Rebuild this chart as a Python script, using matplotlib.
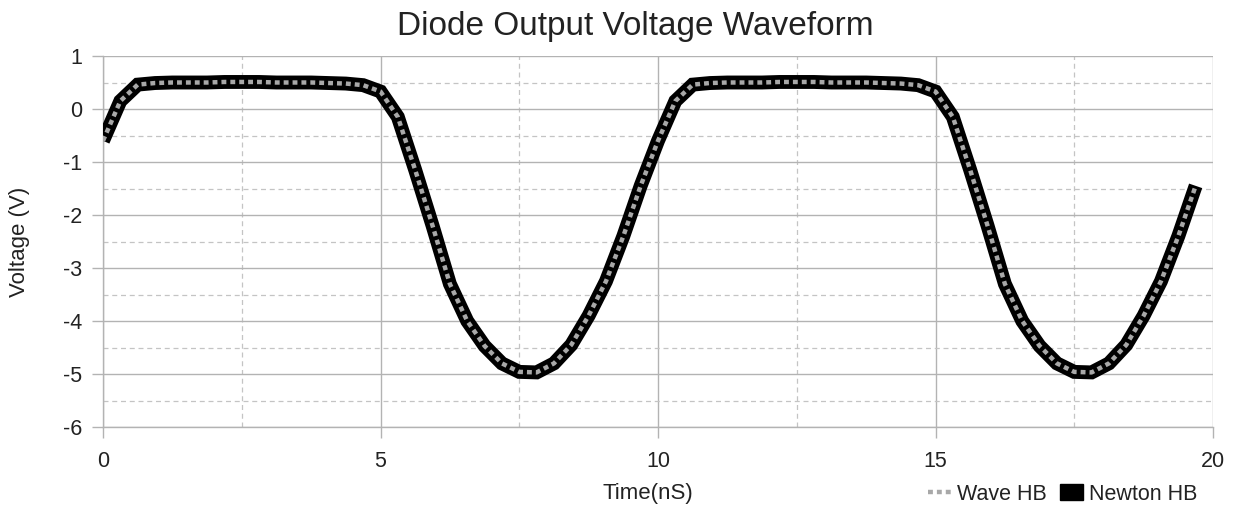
import matplotlib
matplotlib.use("Agg")
import matplotlib.pyplot as plt
from matplotlib.lines import Line2D
from matplotlib.patches import Patch
from matplotlib.ticker import MultipleLocator

plt.rcParams['font.family'] = ['Liberation Sans', 'DejaVu Sans']
plt.rcParams['axes.unicode_minus'] = False

# ---- data ----
step_ns = 0.3125
time_ns = [k * step_ns for k in range(64)]
newton_hb = [
    -0.60, 0.15, 0.46, 0.49, 0.50, 0.50, 0.50, 0.51, 0.51, 0.51, 0.50, 0.50, 0.50, 0.49, 0.48, 0.45,
    0.33, -0.15, -1.15, -2.20, -3.30, -4.00, -4.47, -4.80, -4.96, -4.97, -4.80, -4.45, -3.90, -3.25, -2.40, -1.45,
    -0.60, 0.15, 0.46, 0.49, 0.50, 0.50, 0.50, 0.51, 0.51, 0.51, 0.50, 0.50, 0.50, 0.49, 0.48, 0.45,
    0.33, -0.15, -1.15, -2.20, -3.30, -4.00, -4.47, -4.80, -4.96, -4.97, -4.80, -4.45, -3.90, -3.25, -2.40, -1.45,
]
wave_hb = list(newton_hb)
series_names = ["Wave HB", "Newton HB"]
x_ticks = [0, 5, 10, 15, 20]
y_ticks = [1, 0, -1, -2, -3, -4, -5, -6]

W, H = 1236, 516
fig = plt.figure(figsize=(W / 100, H / 100), dpi=100)
ax = fig.add_axes([103 / W, 1 - 427 / H, 1110 / W, 371 / H])

grid_c = '#b3b3b3'
ax.set_xlim(0, 20)
ax.set_ylim(-6, 1)
ax.set_xticks(x_ticks)
ax.set_yticks(y_ticks)
ax.xaxis.set_minor_locator(MultipleLocator(2.5))
ax.yaxis.set_minor_locator(MultipleLocator(0.5))
ax.grid(True, which='major', color=grid_c, lw=1.0, ls='-')
ax.grid(True, which='minor', color='#c4c4c4', lw=0.9, ls=(0, (4, 3)))
ax.set_axisbelow(True)
for s in ['top', 'right']:
    ax.spines[s].set_visible(False)
for s in ['left', 'bottom']:
    ax.spines[s].set_color(grid_c)
    ax.spines[s].set_linewidth(1.0)
ax.tick_params(axis='both', which='major', direction='out', length=8, width=1.0,
               color=grid_c, labelsize=15.5, labelcolor='#222222')
ax.tick_params(axis='x', pad=9)
ax.tick_params(axis='y', pad=7)
ax.tick_params(which='minor', length=0)

ax.plot(time_ns, newton_hb, color='black', lw=10, solid_joinstyle='miter',
        solid_capstyle='butt', zorder=3)
ax.plot(time_ns, wave_hb, color='#a8a8a8', lw=3.2, ls=(0, (1.1, 0.9)),
        dash_capstyle='butt', zorder=4)

fig.text(635 / W, 1 - 27 / H, "Diode Output Voltage Waveform", ha='center', va='center',
         fontsize=24, color='#222222')
fig.text(648 / W, 1 - 494 / H, "Time(nS)", ha='center', va='center', fontsize=16, color='#222222')
fig.text(20 / W, 1 - 242 / H, "Voltage (V)", ha='center', va='center', rotation=90,
         fontsize=16, color='#222222')

handles = [Line2D([0], [0], color='#a8a8a8', lw=3.2, ls=(0, (1.1, 0.9))),
           Patch(facecolor='black', edgecolor='black')]
fig.legend(handles, series_names, loc='center right', bbox_to_anchor=(1208 / W, 1 - 494 / H),
           ncol=2, frameon=False, fontsize=15.5, handlelength=1.1, handleheight=0.8,
           handletextpad=0.25, columnspacing=0.6, borderpad=0, labelcolor='#222222')

fig.savefig("out.png", dpi=100)
